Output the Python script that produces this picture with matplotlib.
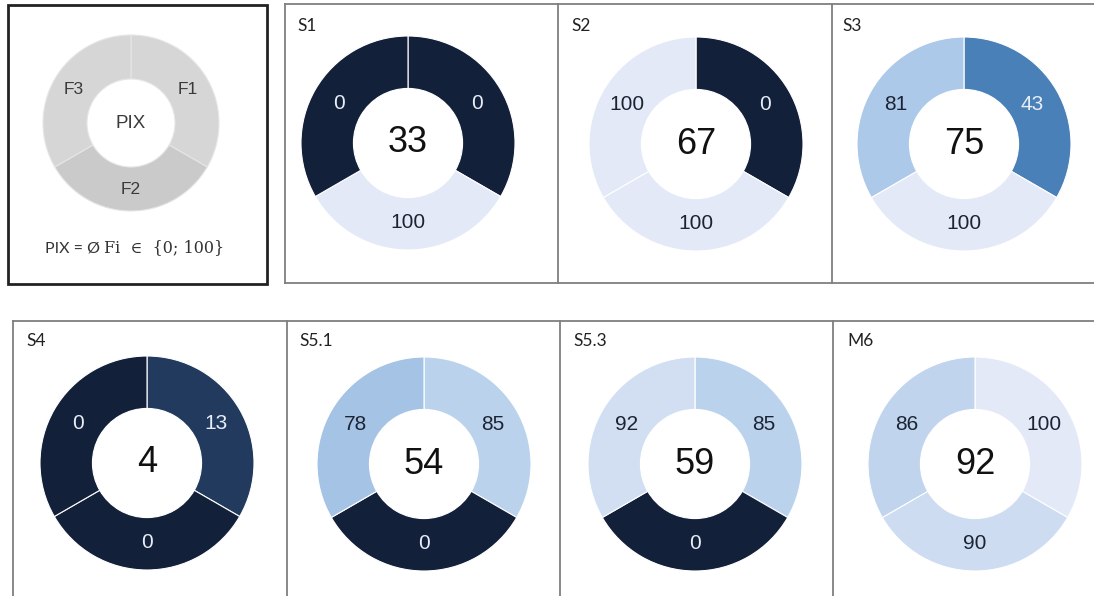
import math
import matplotlib.pyplot as plt
from matplotlib.colors import LinearSegmentedColormap
from matplotlib.lines import Line2D
from matplotlib.patches import Rectangle

plt.rcParams['font.family'] = ['Liberation Sans', 'DejaVu Sans']

W, H = 1094, 596

# data: F1 (right), F2 (bottom), F3 (left) and the PIX value in the middle
panels = ['S1', 'S2', 'S3', 'S4', 'S5.1', 'S5.3', 'M6']
f1 = [0, 0, 43, 13, 85, 85, 100]
f2 = [100, 100, 100, 0, 0, 0, 90]
f3 = [0, 100, 81, 0, 78, 92, 86]
pix = [33, 67, 75, 4, 54, 59, 92]

# layout in pixels (centre x, centre y) and title anchors
centres = [(408, 143), (696, 144), (964, 144),
           (147, 463), (424, 464), (695, 464), (975, 464)]
title_pos = [(297, 26), (571, 26), (842, 26),
             (26, 341), (299, 341), (573, 341), (847, 341)]
R = 107

cmap = LinearSegmentedColormap.from_list('pix', [
    (0.00, '#13203a'), (0.13, '#213a5d'), (0.43, '#4a80b8'),
    (0.80, '#a9c7e8'), (0.90, '#cddcf1'), (1.00, '#e3e9f7')])

fig = plt.figure(figsize=(W / 100, H / 100), dpi=100)


def px_axes(cx, cy, r):
    return fig.add_axes([(cx - r) / W, 1 - (cy + r) / H, 2 * r / W, 2 * r / H])


def hline(x0, x1, y, color='#7f7f7f', lw=1.3):
    fig.add_artist(Line2D([x0 / W, x1 / W], [1 - y / H, 1 - y / H], color=color, lw=lw))


def vline(x, y0, y1, color='#7f7f7f', lw=1.3):
    fig.add_artist(Line2D([x / W, x / W], [1 - y0 / H, 1 - y1 / H], color=color, lw=lw))


# panel frames
hline(285, 1094, 4)
hline(285, 1094, 283)
for x in [285, 558, 832]:
    vline(x, 4, 283)
hline(13, 1094, 321)
for x in [13, 287, 560, 833]:
    vline(x, 321, 596)

# legend box
fig.add_artist(Rectangle((8 / W, 1 - 284 / H), 259 / W, 279 / H, fill=False,
                         edgecolor='#222222', lw=2.0))
ax = px_axes(131, 123, 88)
ax.pie([1, 1, 1], startangle=90, counterclock=False,
       colors=['#d6d6d6', '#cacaca', '#d6d6d6'],
       wedgeprops=dict(width=0.5, edgecolor='#e6e6e6', linewidth=0.8),
       radius=1)
ax.set_xlim(-1, 1)
ax.set_ylim(-1, 1)
ax.axis('off')
for lab, ang in zip(['F1', 'F2', 'F3'], [30, -90, 150]):
    a = math.radians(ang)
    ax.text(0.75 * math.cos(a), 0.75 * math.sin(a), lab, ha='center', va='center',
            fontsize=12.5, color='#3a3a3a')
ax.text(0, 0, 'PIX', ha='center', va='center', fontsize=13.5, color='#3a3a3a')
fig.text(45 / W, 1 - 248 / H, 'PIX = Ø', ha='left', va='center', fontsize=11.5,
         color='#333333', family=['Lato', 'DejaVu Sans'])
fig.text(104 / W, 1 - 248 / H, 'Fi  ∈  {0; 100}', ha='left', va='center', fontsize=11.5,
         color='#333333', family=['DejaVu Serif'])

for i, name in enumerate(panels):
    cx, cy = centres[i]
    ax = px_axes(cx, cy, R)
    vals = [f1[i], f2[i], f3[i]]
    cols = [cmap(v / 100) for v in vals]
    ax.pie([1, 1, 1], startangle=90, counterclock=False, colors=cols,
           wedgeprops=dict(width=0.49, edgecolor='white', linewidth=0.8), radius=1)
    ax.set_xlim(-1, 1)
    ax.set_ylim(-1, 1)
    ax.axis('off')
    for v, ang in zip(vals, [30, -90, 150]):
        a = math.radians(ang)
        tc = '#e8eef8' if v < 60 else '#1c2433'
        ax.text(0.74 * math.cos(a), 0.74 * math.sin(a), str(v), ha='center',
                va='center', fontsize=15, color=tc)
    ax.text(0, 0, str(pix[i]), ha='center', va='center', fontsize=26, color='#111111')
    tx, ty = title_pos[i]
    fig.text(tx / W, 1 - ty / H, name, ha='left', va='center', fontsize=12.5,
             color='#222222', family=['Lato', 'DejaVu Sans'])

fig.savefig('out.png', dpi=100)
